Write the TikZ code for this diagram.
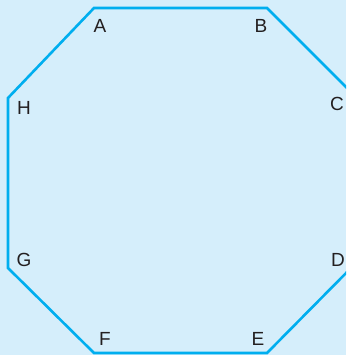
\documentclass[tikz,border=0pt]{standalone}
\usepackage{fontspec}
\setmainfont{Liberation Sans}
\definecolor{bgblue}{HTML}{D5EEFB}
\definecolor{lineblue}{HTML}{00AEEF}
\definecolor{txt}{HTML}{231F20}
\begin{document}
\begin{tikzpicture}[x=1pt,y=1pt,
  lbl/.style={text=txt,font=\fontsize{19}{19}\selectfont,inner sep=0pt,anchor=center}]
\fill[bgblue] (0,0) rectangle (346,355);
\useasboundingbox (0,0) rectangle (346,355);
\begin{scope}
\clip (0,0) rectangle (346,355);
\coordinate (vA) at (94,347);
\coordinate (vB) at (267,347);
\coordinate (vC) at (353,261);
\coordinate (vD) at (353,89);
\coordinate (vE) at (267,2);
\coordinate (vF) at (94,2);
\coordinate (vG) at (8,87);
\coordinate (vH) at (8,257);
\draw[lineblue,line width=2.6pt,line join=miter] (vA) -- (vB) -- (vC) -- (vD) -- (vE) -- (vF) -- (vG) -- (vH) -- cycle;
\end{scope}
\node[lbl] (A) at (100,329) {A};
\node[lbl] (B) at (261,329) {B};
\node[lbl] (C) at (337,251) {C};
\node[lbl] (D) at (338,95) {D};
\node[lbl] (E) at (258,16) {E};
\node[lbl] (F) at (105,16) {F};
\node[lbl] (G) at (24,95) {G};
\node[lbl] (H) at (24,247) {H};
\end{tikzpicture}
\end{document}
